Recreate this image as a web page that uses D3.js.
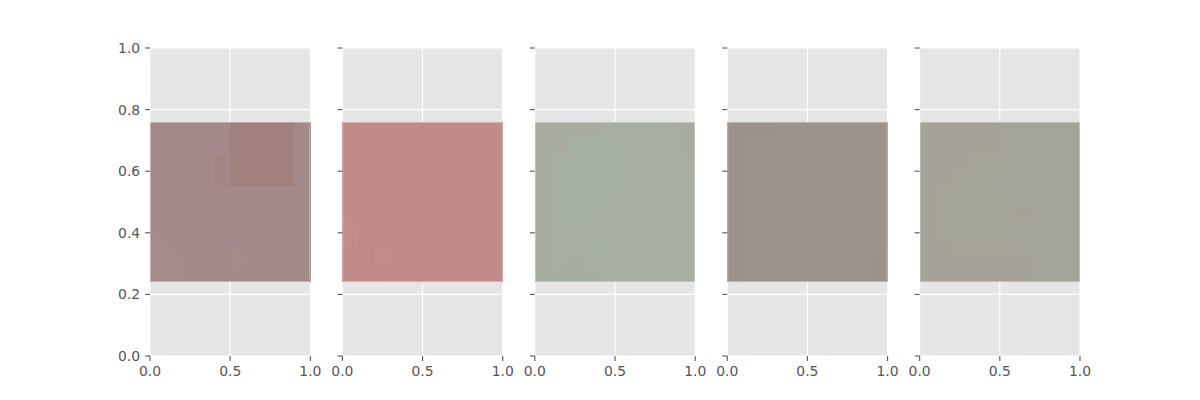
<!DOCTYPE html>
<html>
<head>
<meta charset="utf-8">
<script src="https://cdn.jsdelivr.net/npm/d3@7"></script>
<style>
  html, body { margin: 0; padding: 0; background: #fff; }
  svg { display: block; }
  text { font-family: "DejaVu Sans", sans-serif; }
</style>
</head>
<body>
<svg id="chart" width="1200" height="400"></svg>
<script>
// ---- data ----
const panels = ["p1", "p2", "p3", "p4", "p5"];
const xTicks = [0, 0.5, 1];
const yTicks = [0, 0.2, 0.4, 0.6, 0.8, 1.0];
const imageExtentY = [0.24, 0.76];

// each panel is a 10x10 pixel image; palette key per cell (rows top to bottom)
const palette1 = { a: "#a3898a", b: "#a07f7d", c: "#a28685", d: "#a48a89" };
const grid1 = [
  "aaaaabbbba",
  "aaaaabbbba",
  "aaaacbbbba",
  "aaaacbbbba",
  "aaaaaaaaaa",
  "aaaaaaaaaa",
  "aaaaaaaaaa",
  "daaaaaaaaa",
  "ddaaadaaaa",
  "ddaaaaaaaa"
];
const palette2 = { a: "#c28a89", b: "#c18988", c: "#c38b8a", d: "#c18a89" };
const grid2 = [
  "baaaaaaaaa",
  "baaaaaaaaa",
  "baaaadaaaa",
  "baaaaaadaa",
  "bdaaaaaaaa",
  "bdaaaaaaaa",
  "caaaaaaaaa",
  "cbaaaaaaaa",
  "bbcaaaaaaa",
  "bbbaaaaaaa"
];
const palette3 = { a: "#a6ada2", b: "#a7aba0", c: "#a5aea2", d: "#a6aca1" };
const grid3 = [
  "bbbbaaaaab",
  "bbcccaaaad",
  "bacccaaaaa",
  "bacccaaaaa",
  "daccaaaaaa",
  "dacaaaaaaa",
  "daaacaaaaa",
  "daacaaaaaa",
  "dadaaaaaaa",
  "ddddaaaaaa"
];
const palette4 = { a: "#9b938e", b: "#9a938e", c: "#9b928d" };
const grid4 = [
  "cccaaaaaaa",
  "caaaaaaaaa",
  "caaaaaaaaa",
  "caababbaaa",
  "caabbbbaaa",
  "caabbbaaaa",
  "caabbbaaaa",
  "caaaaaaaaa",
  "caaaaaaaac",
  "caaaaaaaac"
];
const palette5 = { a: "#a5a498", b: "#a5a397", c: "#a4a597", d: "#a5a397" };
const grid5 = [
  "bbbbbaaaaa",
  "bbbbdaaaaa",
  "bbbccaaaaa",
  "bbccaaaaaa",
  "bcccaaaaaa",
  "bcccccdaaa",
  "bccccaaaaa",
  "bbcccaaaaa",
  "bbdbbbdaaa",
  "bbbbbbdaaa"
];
const panelData = [
  { palette: palette1, grid: grid1 },
  { palette: palette2, grid: grid2 },
  { palette: palette3, grid: grid3 },
  { palette: palette4, grid: grid4 },
  { palette: palette5, grid: grid5 }
];

// ---- layout ----
const W = 1200, H = 400;
const mLeft = 0.125 * W, mRight = 0.9 * W, mTop = (1 - 0.88) * H, mBottom = (1 - 0.11) * H;
const n = panels.length, wspace = 0.2;
const pw = (mRight - mLeft) / (n + (n - 1) * wspace);
const gap = pw * wspace;

const svg = d3.select("#chart");
const y = d3.scaleLinear().domain([0, 1]).range([mBottom, mTop]);
const fmt = d3.format(".1f");
const tickLen = 4.9, tickPad = 4.9, fontSize = 13.9;

panels.forEach((p, i) => {
  const x0 = mLeft + i * (pw + gap);
  const x = d3.scaleLinear().domain([0, 1]).range([x0, x0 + pw]);
  const g = svg.append("g");

  // background
  g.append("rect").attr("x", x0).attr("y", mTop).attr("width", pw).attr("height", mBottom - mTop)
    .attr("fill", "#e5e5e5");

  // gridlines
  g.selectAll(".gx").data(xTicks).join("line")
    .attr("x1", d => x(d)).attr("x2", d => x(d)).attr("y1", mTop).attr("y2", mBottom)
    .attr("stroke", "#fff").attr("stroke-width", 1.1);
  g.selectAll(".gy").data(yTicks).join("line")
    .attr("y1", d => y(d)).attr("y2", d => y(d)).attr("x1", x0).attr("x2", x0 + pw)
    .attr("stroke", "#fff").attr("stroke-width", 1.1);

  // image cells
  const { palette, grid } = panelData[i];
  const cells = [];
  grid.forEach((row, r) => row.split("").forEach((k, c) => cells.push({ r, c, color: palette[k] })));
  const nr = grid.length, nc = grid[0].length;
  const cy = d3.scaleLinear().domain([0, nr]).range([y(imageExtentY[1]), y(imageExtentY[0])]);
  const cx = d3.scaleLinear().domain([0, nc]).range([x(0), x(1)]);
  g.selectAll(".cell").data(cells).join("rect")
    .attr("x", d => cx(d.c)).attr("y", d => cy(d.r))
    .attr("width", d => cx(d.c + 1) - cx(d.c) + 0.3)
    .attr("height", d => cy(d.r + 1) - cy(d.r) + 0.3)
    .attr("fill", d => d.color)
    .attr("shape-rendering", "crispEdges");
  g.append("rect")
    .attr("x", x(0) + 0.5).attr("y", y(imageExtentY[1]) + 0.5)
    .attr("width", x(1) - x(0) - 1).attr("height", y(imageExtentY[0]) - y(imageExtentY[1]) - 1)
    .attr("fill", "none").attr("stroke", "#fff").attr("stroke-opacity", 0.35).attr("stroke-width", 1);

  // x ticks
  g.selectAll(".tx").data(xTicks).join("line")
    .attr("x1", d => x(d)).attr("x2", d => x(d)).attr("y1", mBottom).attr("y2", mBottom + tickLen)
    .attr("stroke", "#555555").attr("stroke-width", 1.1);
  g.selectAll(".lx").data(xTicks).join("text")
    .attr("x", d => x(d)).attr("y", mBottom + tickLen + tickPad + fontSize * 0.76)
    .attr("text-anchor", "middle").attr("font-size", fontSize).attr("fill", "#555555")
    .text(d => fmt(d));

  // y ticks
  g.selectAll(".ty").data(yTicks).join("line")
    .attr("x1", x0 - tickLen).attr("x2", x0).attr("y1", d => y(d)).attr("y2", d => y(d))
    .attr("stroke", "#555555").attr("stroke-width", 1.1);
  if (i === 0) {
    g.selectAll(".ly").data(yTicks).join("text")
      .attr("x", x0 - tickLen - tickPad).attr("y", d => y(d))
      .attr("dy", "0.36em")
      .attr("text-anchor", "end").attr("font-size", fontSize).attr("fill", "#555555")
      .text(d => fmt(d));
  }
});
</script>
</body>
</html>
